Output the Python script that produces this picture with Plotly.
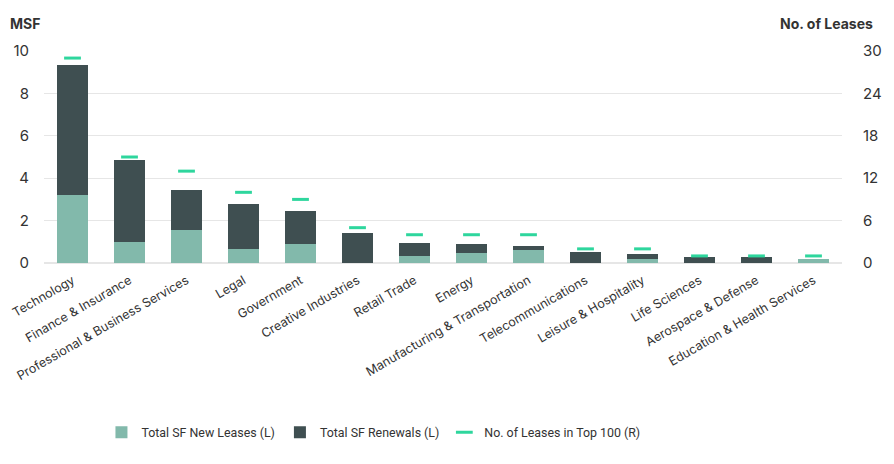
import plotly.graph_objects as go

industries = ["Technology", "Finance & Insurance", "Professional & Business Services",
              "Legal", "Government", "Creative Industries", "Retail Trade", "Energy",
              "Manufacturing & Transportation", "Telecommunications",
              "Leisure & Hospitality", "Life Sciences", "Aerospace & Defense",
              "Education & Health Services"]
new_leases = [3.19, 0.97, 1.57, 0.66, 0.88, 0.0, 0.33, 0.45, 0.63, 0.0, 0.17, 0.0, 0.0, 0.20]
renewals = [6.13, 3.90, 1.86, 2.11, 1.58, 1.42, 0.63, 0.43, 0.17, 0.52, 0.24, 0.30, 0.30, 0.0]
num_leases = [29, 15, 13, 10, 9, 5, 4, 4, 4, 2, 2, 1, 1, 1]

font = "Inter, Roboto, sans-serif"
grid = "#e6e6e6"

fig = go.Figure()
fig.add_trace(go.Bar(x=industries, y=new_leases, name="Total SF New Leases (L)",
                     marker=dict(color="#82b9ab", line=dict(width=0))))
fig.add_trace(go.Bar(x=industries, y=renewals, name="Total SF Renewals (L)",
                     marker=dict(color="#3f4f51", line=dict(width=0))))
fig.add_trace(go.Scatter(x=industries, y=num_leases, yaxis="y2", mode="markers",
                         name="No. of Leases in Top 100 (R)",
                         marker=dict(symbol="line-ew", size=12,
                                     line=dict(width=3, color="#2ed69d"))))

# page body has an 8px margin, so the figure is a bit smaller than the window
fig.update_layout(
    width=886, height=456,
    barmode="stack", bargap=0.47,
    plot_bgcolor="white", paper_bgcolor="white",
    margin=dict(l=36, r=52, t=43, b=201, autoexpand=False),
    font=dict(family=font, size=12.5, color="#333333"),
    xaxis=dict(tickangle=-30, showgrid=False, showline=False, ticks="",
               range=[-0.5, 13.5], automargin=False, ticklabelstandoff=7),
    yaxis=dict(range=[0, 10], dtick=2, gridcolor=grid, zeroline=True,
               zerolinecolor=grid, zerolinewidth=1.5, ticklabelstandoff=14,
               tickfont=dict(size=15), automargin=False),
    yaxis2=dict(range=[0, 30], dtick=6, overlaying="y", side="right",
                showgrid=False, zeroline=False, ticklabelstandoff=20,
                tickfont=dict(size=15), automargin=False),
    legend=dict(orientation="h", x=0.072, xanchor="left", y=-0.80, yanchor="middle",
                font=dict(family="Roboto, sans-serif", size=12.4, color="#333333"),
                itemwidth=30, traceorder="normal"),
    showlegend=True,
)
fig.add_annotation(text="<b>MSF</b>", xref="paper", yref="paper", x=0, y=1.13,
                   xanchor="left", yanchor="middle", xshift=-36, showarrow=False,
                   font=dict(size=14, color="#333333"))
fig.add_annotation(text="<b>No. of Leases</b>", xref="paper", yref="paper", x=1, y=1.13,
                   xanchor="right", yanchor="middle", xshift=33, showarrow=False,
                   font=dict(size=14, color="#333333"))

fig.write_html("out.html")
